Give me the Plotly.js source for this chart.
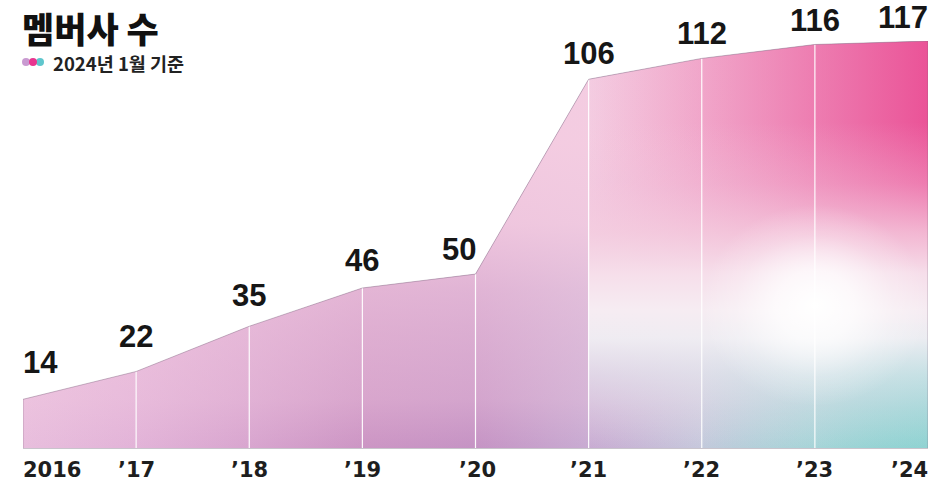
<!DOCTYPE html>
<html><head><meta charset="utf-8">
<script src="https://cdn.plot.ly/plotly-3.0.1.min.js"></script>
<style>html,body{margin:0;padding:0;background:#fff}#chart{width:949px;height:484px}</style>
</head><body><div id="chart"></div>
<script>
// ---- data ----
const years = [2016, 2017, 2018, 2019, 2020, 2021, 2022, 2023, 2024];
const members = [14, 22, 35, 46, 50, 106, 112, 116, 117];
const yearLabels = ['2016', '’17', '’18', '’19', '’20', '’21', '’22', '’23', '’24'];
const titleText = '멤버사 수';
const noteText = '2024년 1월 기준';

// ---- styling ----
const valueAnchor = ['left','center','center','center','right','center','center','center','right'];
const valueShiftX = [-2,0,0,0,2,0,0,0,2];
const valueLift = [17,15,11,8,5,6,5,4,4];
const tickAnchor = ['left','center','center','center','center','center','center','center','right'];
const yMax = 117;
const clamp = (arr, h) => arr.map(v => Math.min(v, h));
// closed band between two clamped copies of the series (for gradient overlays)
function band(xs, ys, lo, hi) {
  const top = hi == null ? ys : clamp(ys, hi);
  const bot = clamp(ys, lo);
  return {x: xs.concat(xs.slice().reverse()), y: top.concat(bot.slice().reverse())};
}

const traces = [];
const base = {type:'scatter', mode:'none', hoverinfo:'skip', showlegend:false, line:{width:0}};

// 1. base horizontal gradient (bottom row colours)
traces.push(Object.assign({}, base, {x: years, y: members, fill:'tozeroy',
  fillgradient:{type:'horizontal', start: years[0], stop: years[8], colorscale:[
    [0,'#e8bedd'],[0.125,'#e2b3d8'],[0.25,'#d8a5cf'],[0.375,'#cc95c4'],[0.5,'#c593c4'],
    [0.625,'#c8abd2'],[0.75,'#c6c8dc'],[0.875,'#b6d6dc'],[1,'#90d3d2']]}}));

// 2. vertical lightening toward light pink
traces.push(Object.assign({}, base, {x: years, y: members, fill:'tozeroy',
  fillgradient:{type:'vertical', start:0, stop:yMax, colorscale:[
    [0,'rgba(246,206,226,0)'],[0.12,'rgba(246,206,226,0.3)'],[0.19,'rgba(246,206,226,0.36)'],
    [0.3,'rgba(246,206,226,0.46)'],[0.39,'rgba(246,206,226,0.56)'],[0.55,'rgba(246,206,226,0.85)'],
    [0.75,'rgba(246,206,226,0.95)'],[1,'rgba(246,206,226,0.95)']]}}));

const rx = years.slice(5), ry = members.slice(5);
// 3. hot pink toward the top right (band above 40)
traces.push(Object.assign({}, base, band(rx, ry, 40, null), {fill:'toself',
  fillgradient:{type:'horizontal', start: years[5], stop: years[8], colorscale:[
    [0,'rgba(234,74,146,0)'],[0.33,'rgba(234,74,146,0.3)'],[0.67,'rgba(234,74,146,0.62)'],[1,'rgba(234,74,146,0.93)']]}}));

// 4. teal toward the bottom right (band below 36)
traces.push(Object.assign({}, base, band(years.slice(6), members.slice(6), 0, 36), {fill:'toself',
  fillgradient:{type:'horizontal', start: years[6], stop: years[8], colorscale:[
    [0,'rgba(143,211,210,0.08)'],[0.5,'rgba(143,211,210,0.4)'],[1,'rgba(143,211,210,0.8)']]}}));

// 5. soft middle band on the right part
traces.push(Object.assign({}, base, {x: rx, y: ry, fill:'tozeroy',
  fillgradient:{type:'vertical', start:0, stop:yMax, colorscale:[
    [0,'rgba(226,230,238,0)'],[0.09,'rgba(226,230,238,0.28)'],[0.18,'rgba(230,234,240,0.6)'],
    [0.27,'rgba(240,238,243,0.95)'],[0.34,'rgba(246,236,242,1)'],[0.43,'rgba(246,222,234,1)'],
    [0.53,'rgba(245,206,224,0.8)'],[0.65,'rgba(245,200,222,0.35)'],[0.8,'rgba(245,200,222,0)'],[1,'rgba(245,200,222,0)']]}}));

// 6. white glow
const g = band(years.slice(6), members.slice(6), 12, 70);
traces.push(Object.assign({}, base, g, {fill:'toself',
  fillgradient:{type:'radial', colorscale:[
    [0,'rgba(255,255,255,1)'],[0.35,'rgba(255,255,255,0.75)'],[0.7,'rgba(255,255,255,0.25)'],[1,'rgba(255,255,255,0)']]}}));

// white vertical year lines
const vx = [], vy = [];
for (let i = 1; i < years.length - 1; i++) { vx.push(years[i], years[i], null); vy.push(0, members[i], null); }
traces.push({type:'scatter', mode:'lines', x: vx, y: vy, hoverinfo:'skip', showlegend:false,
  line:{color:'rgba(255,255,255,0.95)', width:1.2}});

// outline
const ox = [years[0]].concat(years, [years[8]]);
const oy = [0].concat(members, [0]);
traces.push({type:'scatter', mode:'lines', x: ox, y: oy, hoverinfo:'skip', showlegend:false,
  line:{color:'rgba(120,96,120,0.5)', width:0.8}});

const annotations = [];
for (let i = 0; i < years.length; i++) {
  annotations.push({x: years[i], y: members[i], xref:'x', yref:'y', text: String(members[i]), showarrow:false,
    xanchor: valueAnchor[i], yanchor:'bottom', xshift: valueShiftX[i], yshift: valueLift[i],
    font:{family:'Liberation Sans, Arial, sans-serif', size:31, color:'#161616', weight:700}});
  annotations.push({x: years[i], y: 0, xref:'x', yref:'y', text: yearLabels[i], showarrow:false,
    xanchor: tickAnchor[i], yanchor:'top', xshift: valueShiftX[i], yshift:-8,
    font:{family:'DejaVu Sans, sans-serif', size:21, color:'#1e1e1e', weight:700}});
}
annotations.push({xref:'paper', yref:'paper', x:0, y:1, xanchor:'left', yanchor:'top', xshift:-3, yshift:41,
  text: titleText, showarrow:false, font:{family:'Noto Sans CJK KR, sans-serif', size:35, color:'#111', weight:900}});
annotations.push({xref:'paper', yref:'paper', x:0, y:1, xanchor:'left', yanchor:'middle', xshift:28, yshift:-22,
  text: noteText, showarrow:false, font:{family:'Noto Sans CJK KR, sans-serif', size:18.5, color:'#222', weight:700}});

const dotColors = ['#c99ad1', '#5fc6cd', '#e8358f'];
const dotOffsets = [-1, 13, 6];
const shapes = dotColors.map((c, k) => ({type:'circle', xref:'paper', yref:'paper', xsizemode:'pixel', ysizemode:'pixel',
  xanchor:0, yanchor:1, x0: dotOffsets[k], x1: dotOffsets[k] + 8, y0:-25, y1:-17, fillcolor:c, line:{width:0}}));

const layout = {
  width:949, height:484,
  margin:{l:23, r:21, t:41, b:36},
  paper_bgcolor:'#fff', plot_bgcolor:'#fff',
  xaxis:{range:[years[0], years[8]], showgrid:false, zeroline:false, showticklabels:false, ticks:'',
    showline:true, linecolor:'#c9c4cc', linewidth:1, fixedrange:true},
  yaxis:{range:[0, yMax], showgrid:false, zeroline:false, showticklabels:false, ticks:'', showline:false, fixedrange:true},
  annotations: annotations,
  shapes: shapes,
  showlegend:false
};
Plotly.newPlot('chart', traces, layout, {displayModeBar:false, staticPlot:true});
</script>
</body></html>
